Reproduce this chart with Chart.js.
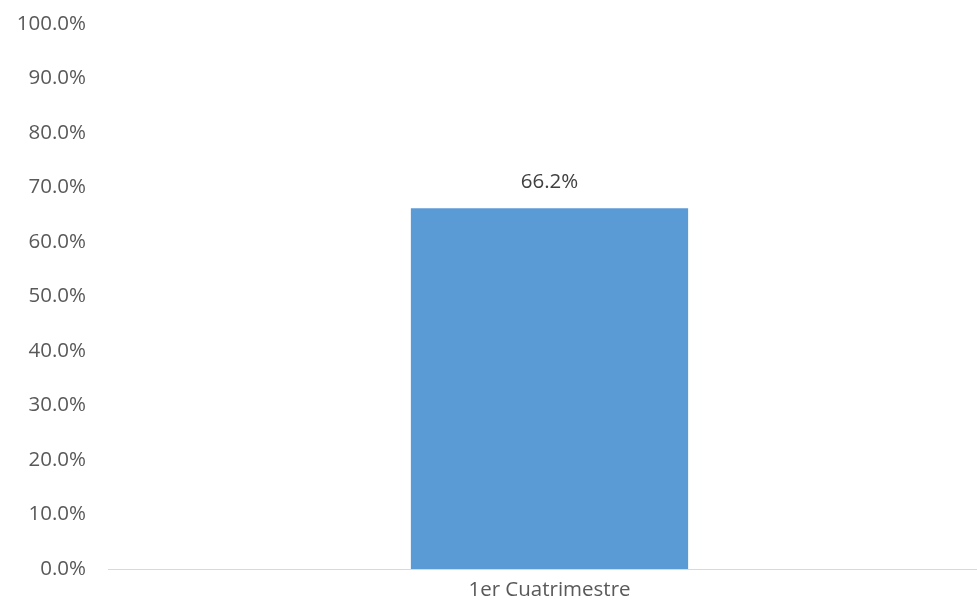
<!DOCTYPE html>
<html>
<head>
<meta charset="utf-8">
<script src="https://cdn.jsdelivr.net/npm/chart.js@4"></script>
<style>
html,body{margin:0;padding:0;background:#fff;overflow:hidden;}
#wrap{width:991px;height:609px;position:relative;}
</style>
</head>
<body>
<div id="wrap"><canvas id="chart"></canvas></div>
<script>
const labels = ["1er Cuatrimestre"];
const values = [66.2];
const yTicks = [0,10,20,30,40,50,60,70,80,90,100];

const FONT = "'Open Sans', 'Liberation Sans', sans-serif";

// value label above each bar
const barLabels = {
id:'barLabels',
afterDatasetsDraw(chart){
const ctx=chart.ctx;
const meta=chart.getDatasetMeta(0);
ctx.save();
ctx.font="20.5px "+FONT;
ctx.fillStyle="#404040";
ctx.textAlign="center";
ctx.textBaseline="middle";
meta.data.forEach((bar,i)=>{
ctx.fillText(values[i].toFixed(1)+"%",bar.x,bar.y-26);
});
ctx.restore();
}
};

new Chart(document.getElementById("chart"),{
type:'bar',
data:{
labels:labels,
datasets:[{
data:values,
backgroundColor:"#5B9BD5",
borderWidth:0,
categoryPercentage:1,
barPercentage:0.314
}]
},
plugins:[barLabels],
options:{
responsive:true,
maintainAspectRatio:false,
animation:false,
layout:{padding:{top:24,right:0,left:0,bottom:0}},
plugins:{legend:{display:false},tooltip:{enabled:false}},
scales:{
y:{
min:0,max:100,
afterFit(scale){scale.width=108;scale.paddingTop=0;scale.paddingBottom=0;},
afterBuildTicks(scale){scale.ticks=yTicks.map(v=>({value:v}));},
grid:{display:false,drawTicks:false},
border:{display:false},
ticks:{
padding:22,
color:"#595959",
font:{family:FONT,size:20.5},
callback:v=>v.toFixed(1)+"%"
}
},
x:{
afterFit(scale){scale.height=40;},
grid:{display:false,drawTicks:false},
border:{display:true,color:"#d9d9d9",width:1},
ticks:{
padding:9,
color:"#595959",
font:{family:FONT,size:20.5}
}
}
}
}
});
</script>
</body>
</html>
